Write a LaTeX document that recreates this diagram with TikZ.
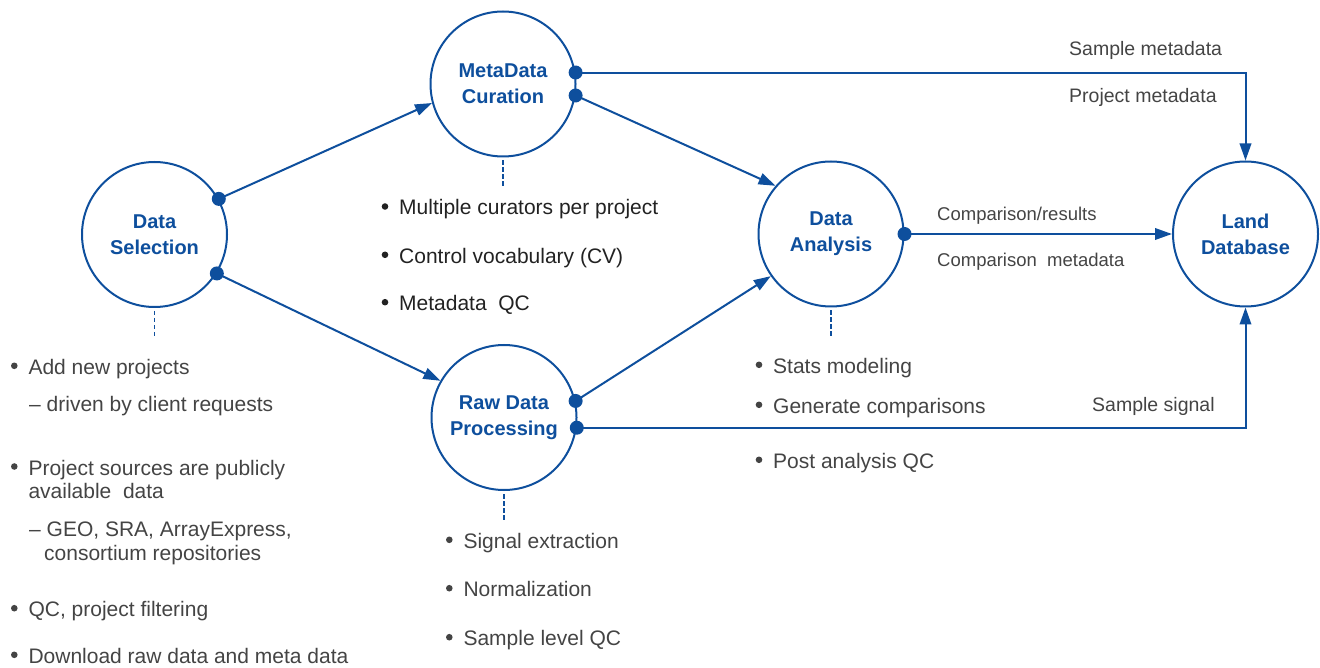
\documentclass[tikz,border=0pt]{standalone}
\usepackage{fontspec}
\setmainfont{Liberation Sans}
\usetikzlibrary{arrows.meta}
\definecolor{bl}{HTML}{0E4F9D}
\definecolor{tx}{HTML}{444444}
\definecolor{tk}{HTML}{222222}
\newcommand\bitem[4]{%
  \node[item, text=#3] (#1) at #2 {#4};
  \fill[#3] ([xshift=-14pt,yshift=8.5pt]#1.base west) circle (3.3pt);}
\begin{document}
\begin{tikzpicture}[x=1pt,y=-1pt,
  stage/.style={circle, draw=bl, line width=2pt, minimum size=145pt, inner sep=0pt,
    align=center, text=bl, font=\fontsize{20}{26}\selectfont\bfseries},
  flow/.style={draw=bl, line width=2pt, -{Triangle[length=17pt,width=11.5pt]}},
  port/.style={fill=bl},
  dashline/.style={draw=bl, line width=1.8pt, dash pattern=on 4.5pt off 2.5pt},
  item/.style={anchor=base west, inner sep=0pt, text=tx, font=\fontsize{21}{25}\selectfont},
  lab/.style={anchor=base west, inner sep=0pt, text=tx, font=\fontsize{19.5}{24}\selectfont},
  slab/.style={anchor=base west, inner sep=0pt, text=tx, font=\fontsize{18.5}{22}\selectfont},
]
\useasboundingbox (0,0) rectangle (1320,668);

% stages
\node[stage] (ds) at (154.5,234.5) {Data\\Selection};
\node[stage] (mc) at (503,84) {MetaData\\Curation};
\node[stage] (da) at (831,234) {Data\\Analysis};
\node[stage] (ld) at (1245.5,234) {Land\\Database};
\node[stage] (rd) at (504,417.5) {Raw Data\\Processing};

% connectors
\draw[flow] (ds.29) -- (mc.195);
\draw[flow] (ds.-32) -- (rd.150);
\draw[flow] (mc.-9) -- (da.139);
\draw[flow] (rd.13) -- (da.215);
\draw[flow] (mc.9) -| (ld.north);
\draw[flow] (da.east) -- (ld.west);
\draw[flow] (rd.-8) -| (ld.south);

% ports
\foreach \p in {ds.29, ds.-32, mc.9, mc.-9, da.east, rd.13, rd.-8}
  \fill[port] (\p) circle (7pt);

% dashed stems
\draw[dashline] ([yshift=-3pt]ds.south) -- ++(0,26);
\draw[dashline] ([yshift=-3pt]mc.south) -- ++(0,27);
\draw[dashline] ([yshift=-3pt]da.south) -- ++(0,27);
\draw[dashline] ([yshift=-3pt]rd.south) -- ++(0,26);

% edge labels
\node[lab] (l1) at (1069,56) {Sample metadata};
\node[lab] (l2) at (1069,102.7) {Project metadata};
\node[slab] (l3) at (937,220.7) {Comparison/results};
\node[slab] (l4) at (937,266.7) {Comparison\ \ metadata};
\node[lab] (l5) at (1092,411.7) {Sample signal};

% Data Selection list
\bitem{s1}{(28.3,374.3)}{tx}{Add new projects}
\node[item] (s1a) at (29,411.7) {– driven by client requests};
\bitem{s2}{(28.3,475)}{tx}{Project sources are publicly}
\node[item] (s2b) at (28.3,498.3) {available\ \ data};
\node[item] (s2a) at (29,536.7) {– GEO, SRA, ArrayExpress,};
\node[item] (s2c) at (44,560) {consortium repositories};
\bitem{s3}{(28.3,616.7)}{tx}{QC, project filtering}
\bitem{s4}{(28.3,663.3)}{tx}{Download raw data and meta data}

% MetaData list
\bitem{m1}{(399,215)}{tk}{Multiple curators per project}
\bitem{m2}{(399,263.3)}{tk}{Control vocabulary (CV)}
\bitem{m3}{(399,310.7)}{tk}{Metadata\ \ QC}

% Data Analysis list
\bitem{a1}{(773,373.3)}{tx}{Stats modeling}
\bitem{a2}{(773,413.3)}{tx}{Generate comparisons}
\bitem{a3}{(773,468.3)}{tx}{Post analysis QC}

% Raw Data list
\bitem{r1}{(463.3,548.3)}{tx}{Signal extraction}
\bitem{r2}{(463.3,596.7)}{tx}{Normalization}
\bitem{r3}{(463.3,645.7)}{tx}{Sample level QC}
\end{tikzpicture}
\end{document}
